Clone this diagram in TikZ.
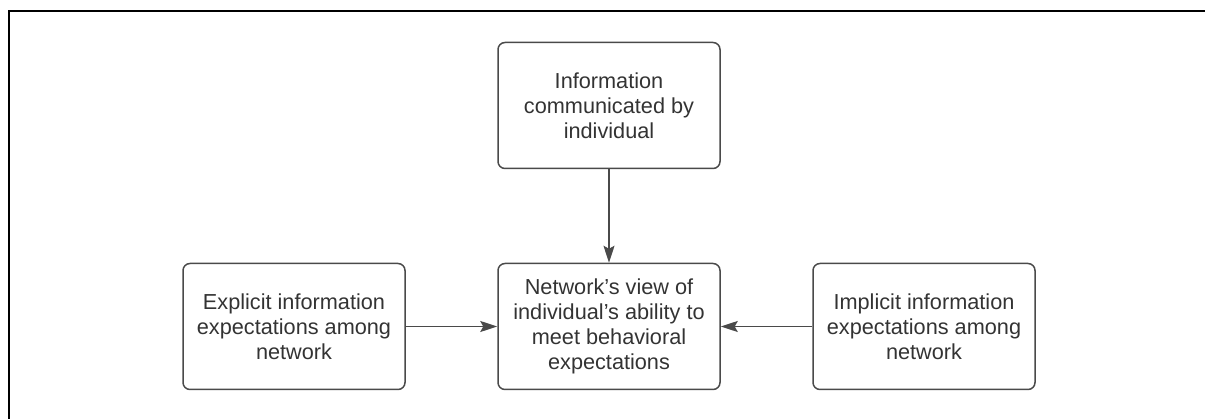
\documentclass[tikz,border=0pt]{standalone}
\usepackage{fontspec}
\setmainfont{Liberation Sans}
\usetikzlibrary{arrows.meta}
\definecolor{boxline}{HTML}{4A4A4A}
\definecolor{txt}{HTML}{333333}
\tikzset{
  box/.style={draw=boxline, line width=1.5pt, rounded corners=7pt, minimum width=222pt, minimum height=126pt, align=center, text=txt, font=\fontsize{21.7pt}{25pt}\selectfont, inner sep=0pt},
  conn/.style={draw=boxline, line width=1.5pt, -{Stealth[length=17pt,width=11pt,inset=3pt]}},
  frame/.style={line width=2.5pt, black}
}
\begin{document}
\begin{tikzpicture}[x=1pt,y=-1pt]
\useasboundingbox (0,0) rectangle (1205,419);
\coordinate (fa) at (9,419);
\coordinate (fb) at (9,11);
\coordinate (fc) at (1206,11);
\draw[frame] (fa) -- (fb) -- (fc);
\node[box] (top) at (609,105.5) {Information\\communicated by\\individual};
\node[box] (mid) at (609,326.5) {Network’s view of\\individual’s ability to\\meet behavioral\\expectations};
\node[box] (left) at (294,326.5) {Explicit information\\expectations among\\network};
\node[box] (right) at (924,326.5) {Implicit information\\expectations among\\network};
\draw[conn] (top) -- (mid);
\draw[conn] (left) -- (mid);
\draw[conn] (right) -- (mid);
\end{tikzpicture}
\end{document}
